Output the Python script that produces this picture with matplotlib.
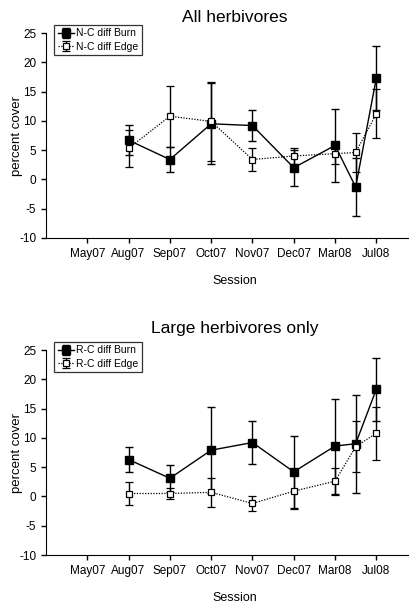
import matplotlib
matplotlib.use('Agg')
import matplotlib.pyplot as plt
import numpy as np

plt.rcParams['font.family'] = ['Liberation Sans', 'DejaVu Sans']
plt.rcParams['axes.unicode_minus'] = False

sessions = ['May07', 'Aug07', 'Sep07', 'Oct07', 'Nov07', 'Dec07', 'Mar08', 'Jul08']
# sampling positions (one extra session between Mar08 and Jul08)
pos = [2, 3, 4, 5, 6, 7, 7.5, 8]

# All herbivores
nc_burn = [6.7, 3.4, 9.5, 9.2, 2.0, 5.8, -1.3, 17.3]
nc_burn_err = [2.6, 2.2, 6.9, 2.7, 3.1, 6.3, 4.9, 5.5]
nc_edge = [5.3, 10.8, 9.9, 3.4, 4.0, 4.4, 4.6, 11.2]
nc_edge_err = [3.1, 5.2, 6.7, 2.0, 1.4, 1.7, 3.3, 4.2]

# Large herbivores only
rc_burn = [6.3, 3.1, 7.9, 9.2, 4.2, 8.6, 9.0, 18.3]
rc_burn_err = [2.2, 2.3, 7.3, 3.6, 6.2, 8.1, 8.4, 5.4]
rc_edge = [0.5, 0.5, 0.7, -1.2, 0.9, 2.6, 8.5, 10.8]
rc_edge_err = [1.9, 1.0, 2.5, 1.25, 3.1, 2.3, 4.4, 4.5]

fig = plt.figure(figsize=(4.09, 6.05), dpi=100)

W = 409.0
H = 605.0
px = 41.29  # pixels per session step


def panel(top_px, title, tpad, burn, burn_err, edge, edge_err, lab_burn, lab_edge):
    left = 46.0
    right = 424.0
    ax = fig.add_axes([left / W, 1 - (top_px + 205) / H, (right - left) / W, 205 / H])
    ax.errorbar(pos, burn, yerr=burn_err, fmt='-s', color='black', ms=5.5,
                lw=1.0, elinewidth=1.0, capsize=3, capthick=1.0,
                label=lab_burn, zorder=3)
    ax.errorbar(pos, edge, yerr=edge_err, fmt='s', ls=(0, (1, 1.2)),
                color='black', mfc='white', mec='black', ms=4.5, mew=0.9,
                lw=0.9, elinewidth=1.0, capsize=3, capthick=1.0,
                label=lab_edge, zorder=4)
    ax.set_xlim(0, (right - left) / px)
    ax.set_ylim(-10, 25)
    ax.set_yticks(np.arange(-10, 26, 5))
    ax.set_xticks(range(1, 9))
    ax.set_xticklabels(sessions)
    ax.spines['top'].set_visible(False)
    ax.spines['right'].set_visible(False)
    ax.tick_params(axis='both', labelsize=8.5, length=3.5, width=1.0)
    ax.set_title(title, fontsize=12.5, pad=tpad)
    ax.set_xlabel('Session', fontsize=9, labelpad=11)
    ax.set_ylabel('percent cover', fontsize=9.5)
    ax.yaxis.set_label_coords(-0.062, 0.5)
    leg = ax.legend(loc='upper left', bbox_to_anchor=(0.021, 1.04), fontsize=7.5,
                    frameon=True, fancybox=False, edgecolor='black',
                    handlelength=1.6, handletextpad=0.2, borderpad=0.35,
                    labelspacing=0.3, borderaxespad=0)
    leg.get_frame().set_linewidth(0.9)
    return ax


panel(33, 'All herbivores', 8, nc_burn, nc_burn_err, nc_edge, nc_edge_err,
      'N-C diff Burn', 'N-C diff Edge')
panel(350, 'Large herbivores only', 12, rc_burn, rc_burn_err, rc_edge, rc_edge_err,
      'R-C diff Burn', 'R-C diff Edge')

plt.savefig('out.png', dpi=100)
